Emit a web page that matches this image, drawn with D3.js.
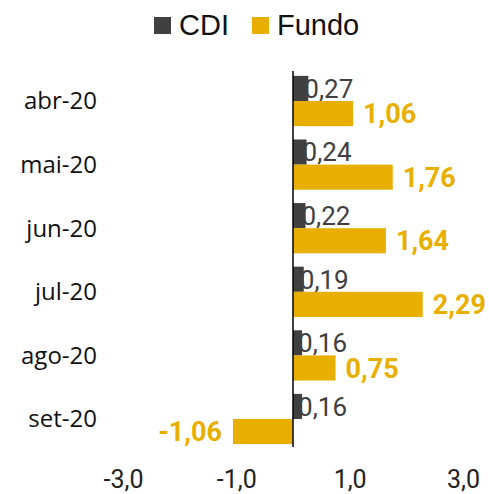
<!DOCTYPE html>
<meta charset="utf-8">
<style>
body {
  margin: 0;
  padding: 0;
  background: #fff;
}
svg text {
  stroke: none;
}
.cat {
  font-family: "Open Sans", sans-serif;
  font-size: 24px;
  fill: #111;
}
.tick text {
  font-family: Roboto, sans-serif;
  font-size: 25px;
  fill: #222;
}
.val {
  font-family: Roboto, sans-serif;
}
.legend text {
  font-family: "Liberation Sans", Arial, sans-serif;
  font-size: 29px;
  fill: #111;
}
</style>
<body>
<div id="chart"></div>
<script src="https://cdn.jsdelivr.net/npm/d3@7"></script>
<script>

var months = ['abr-20', 'mai-20', 'jun-20', 'jul-20', 'ago-20', 'set-20'];
var cdi = [0.27, 0.24, 0.22, 0.19, 0.16, 0.16];
var fundo = [1.06, 1.76, 1.64, 2.29, 0.75, -1.06];
var series = ['CDI', 'Fundo'];
var tickValues = [-3, -1, 1, 3];

var colors = { CDI: '#404040', Fundo: '#e8af00' };

var width = 489, height = 494;

var svg = d3.select('#chart').append('svg')
  .attr('width', width)
  .attr('height', height);

var x = d3.scaleLinear().domain([-3, 3]).range([123, 463]);

var y = d3.scaleBand()
  .domain(months)
  .range([69.2, 450.8])
  .paddingInner(0.21)
  .paddingOuter(0.105);

var ySub = d3.scaleBand()
  .domain(series)
  .range([0, y.bandwidth()]);

function fmt(v) {
  return v.toFixed(2).replace('.', ',');
}

var rows = months.map(function (m, i) {
  return { month: m, CDI: cdi[i], Fundo: fundo[i] };
});

// legend
var legend = svg.append('g').attr('class', 'legend');
var legendX = { CDI: 154, Fundo: 252 };
series.forEach(function (s) {
  legend.append('rect')
    .attr('x', legendX[s]).attr('y', 17)
    .attr('width', 17).attr('height', 17)
    .attr('fill', colors[s]);
  legend.append('text')
    .attr('x', legendX[s] + 25).attr('y', 35)
    .text(s);
});

// category labels
svg.append('g').selectAll('text')
  .data(months)
  .enter().append('text')
    .attr('class', 'cat')
    .attr('x', 97)
    .attr('y', function (d) { return y(d) + y.bandwidth() / 2; })
    .attr('dy', '0.35em')
    .attr('text-anchor', 'end')
    .text(function (d) { return d; });

// x axis
var axis = svg.append('g')
  .attr('transform', 'translate(0,488)')
  .call(d3.axisBottom(x)
    .tickValues(tickValues)
    .tickSize(0)
    .tickPadding(0)
    .tickFormat(function (d) { return d.toFixed(1).replace('.', ','); }));
axis.select('.domain').remove();
axis.selectAll('.tick text').attr('y', 0).attr('dy', 0);

var groups = svg.append('g').selectAll('g')
  .data(rows)
  .enter().append('g')
    .attr('transform', function (d) { return 'translate(0,' + y(d.month) + ')'; });

// CDI labels (bar drawn over them)
groups.append('text')
  .attr('class', 'val')
  .attr('x', function (d) { return x(d.CDI) - 4; })
  .attr('y', ySub('CDI') + ySub.bandwidth() / 2)
  .attr('dy', '0.36em')
  .attr('font-size', 26)
  .attr('fill', colors.CDI)
  .text(function (d) { return fmt(d.CDI); });

series.forEach(function (s) {
  groups.append('rect')
    .attr('x', function (d) { return x(Math.min(0, d[s])); })
    .attr('y', ySub(s))
    .attr('width', function (d) { return Math.abs(x(d[s]) - x(0)); })
    .attr('height', ySub.bandwidth())
    .attr('fill', colors[s]);
});

groups.append('text')
  .attr('class', 'val')
  .attr('x', function (d) { return d.Fundo >= 0 ? x(d.Fundo) + 10 : x(d.Fundo) - 11; })
  .attr('y', ySub('Fundo') + ySub.bandwidth() / 2)
  .attr('dy', '0.36em')
  .attr('text-anchor', function (d) { return d.Fundo >= 0 ? 'start' : 'end'; })
  .attr('font-size', 27)
  .attr('font-weight', 'bold')
  .attr('fill', colors.Fundo)
  .text(function (d) { return fmt(d.Fundo); });

// zero line
svg.append('line')
  .attr('x1', x(0)).attr('x2', x(0))
  .attr('y1', 71).attr('y2', 447)
  .attr('stroke', '#000')
  .attr('stroke-width', 1.5);

</script>
</body>
